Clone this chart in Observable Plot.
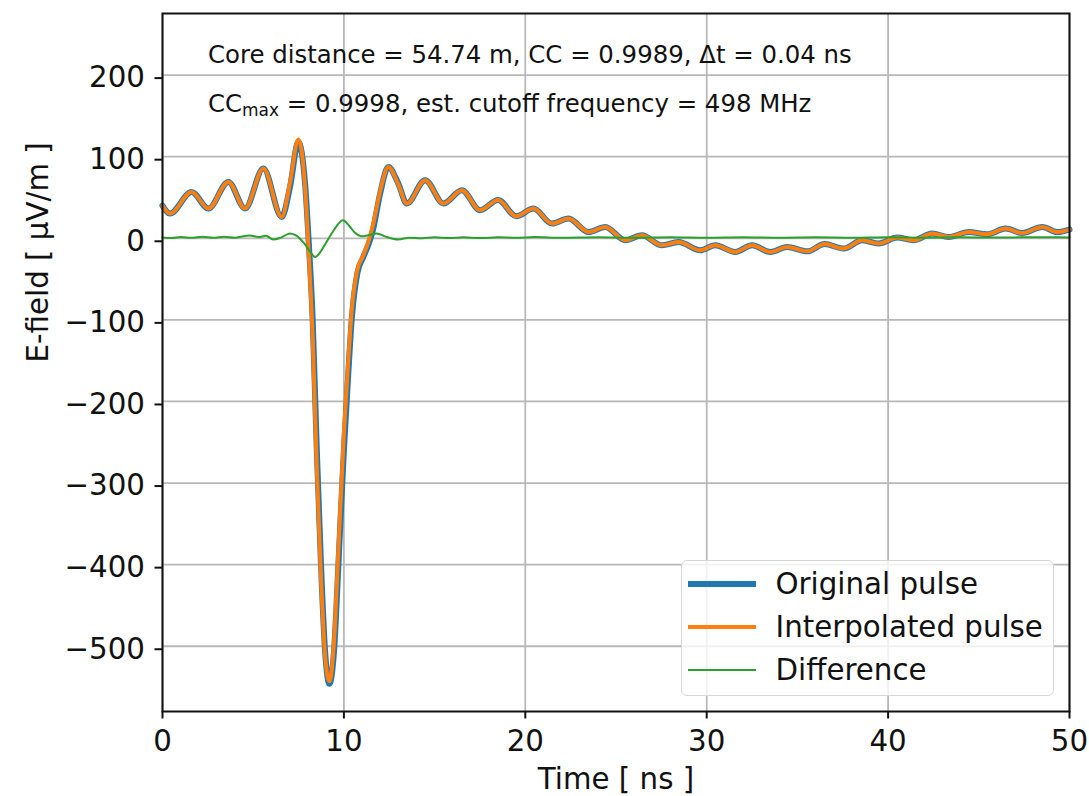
<!DOCTYPE html>
<html>
<head>
<meta charset="utf-8">
<script src="https://cdn.jsdelivr.net/npm/d3@7"></script>
<script src="https://cdn.jsdelivr.net/npm/@observablehq/plot@0.6"></script>
<style>
  body { margin: 0; background: #fff; }
  #chart { position: relative; width: 1089px; height: 796px; font-family: "DejaVu Sans", sans-serif; color: #111; }
  #chart svg { display: block; }
  .legend {
    position: absolute; left: 680.5px; top: 559.5px; width: 373px; height: 136px;
    box-sizing: border-box; border: 1.3px solid #d6d6d6; border-radius: 6px;
    background: rgba(255, 255, 255, 0.8);
  }
  .legend .row { position: absolute; left: 0; height: 40px; display: flex; align-items: center; }
  .legend .row svg { margin-left: 6px; }
  .legend .row span { margin-left: 20px; font-size: 29.3px; line-height: 40px; white-space: nowrap; }
</style>
</head>
<body>
<div id="chart"></div>
<script>
// Sample times [ns] of the pulse traces
const pulseTime = [0, 0.41, 1.61, 2.53, 3.63, 4.55, 5.56, 6.57, 7.03, 7.49, 7.86, 8.05, 8.28, 8.5, 8.72, 8.96, 9.2, 9.46, 9.7, 10.0, 10.21, 10.44, 10.75, 11.05, 11.35, 11.6, 12.0, 12.45, 13.0, 13.47, 14.48, 15.49, 16.5, 17.51, 18.5, 19.5, 20.45, 21.47, 22.38, 23.49, 24.41, 25.51, 26.43, 27.53, 28.45, 29.65, 30.47, 31.57, 32.5, 33.51, 34.43, 35.55, 36.5, 37.55, 38.57, 39.48, 40.5, 41.41, 42.43, 43.34, 44.45, 45.46, 46.47, 47.39, 48.5, 49.32, 50];

// E-field [µV/m] of the original simulated pulse
const originalPulse = [40, 30.3, 56.8, 36.4, 69.1, 36.4, 85.5, 26.1, 63, 118, 67, 0, -100, -255, -390, -505, -546, -505, -399, -260, -178, -97, -42, -24, -8, 10, 55, 87.5, 67, 42.6, 71.2, 42.6, 58.9, 34.4, 47, 27, 36.4, 18, 24.2, 7.7, 13.9, -2.5, 3.7, -8.6, -4.5, -14.7, -8.6, -16.8, -8.6, -16.8, -10.7, -16, -7, -12.6, -2.5, -6.5, 0.9, -2.5, 5.8, 1.6, 7.7, 4.9, 11.9, 6.5, 13.9, 7.7, 10.7];

// E-field [µV/m] of the interpolated pulse
const interpolatedPulse = [40, 30.3, 56.8, 36.4, 69.1, 36.4, 85.5, 26.1, 68, 121, 62, -14, -122, -278, -407, -511, -543, -492, -380, -239, -161, -86, -38, -22, -4, 16, 58, 87.5, 66, 42.6, 71.2, 42.6, 58.9, 34.4, 47, 27, 36.4, 18, 24.2, 7.7, 13.9, -2.5, 3.7, -8.6, -4.5, -14.7, -8.6, -16.8, -8.6, -16.8, -10.7, -16, -7, -12.6, -2.5, -6.5, 0.9, -2.5, 5.8, 1.6, 7.7, 4.9, 11.9, 6.5, 13.9, 7.7, 10.7];

// Difference trace (interpolated - original)
const diffTime = [0, 0.5, 1.0, 1.6, 2.2, 2.8, 3.4, 4.0, 4.8, 5.3, 5.7, 6.1, 6.5, 7.03, 7.4, 7.8, 8.1, 8.41, 8.7, 9.0, 9.3, 9.6, 9.94, 10.3, 10.6, 11.0, 11.3, 11.8, 12.3, 13.0, 13.6, 14.3, 15.0, 15.8, 16.6, 17.5, 18.5, 19.5, 20.5, 22, 24, 26, 28, 30, 32, 34, 36, 38, 40, 42, 44, 46, 48, 50];
const difference = [1, 0.3, 1.5, 0.5, 1.8, 0.6, 2, 0.8, 3.5, 1.5, 3, -1.5, 0.5, 6, 3, -6, -15, -23, -17, -6, 5, 15, 22, 15, 7, 2.5, 3.5, 6, 2, -1.5, 0.8, 0, 1.2, 0.2, 1.2, 0.3, 1.2, 0.5, 1.5, 0.6, 1.3, 0.5, 1.2, 0.6, 1.3, 0.6, 1.2, 0.7, 1.3, 0.8, 1.2, 0.9, 1.3, 1];

// Axis ticks
const xTicks = [0, 10, 20, 30, 40, 50];
const yTicks = [-500, -400, -300, -200, -100, 0, 100, 200];

// Series names and labels
const seriesNames = ["Original pulse", "Interpolated pulse", "Difference"];
const xLabel = "Time [ ns ]";
const yLabel = "E-field [ μV/m ]";
const infoLine = "Core distance = 54.74 m, CC = 0.9989, Δt = 0.04 ns";
const ccMaxParts = ["CC", "max", " = 0.9998, est. cutoff frequency = 498 MHz"];

// Drawing style of each series
const seriesStyle = [
  { color: "#1f77b4", width: 6 },
  { color: "#ff7f0e", width: 4 },
  { color: "#2ca02c", width: 2 }
];

const original = pulseTime.map((t, i) => ({ t, v: originalPulse[i] }));
const interpolated = pulseTime.map((t, i) => ({ t, v: interpolatedPulse[i] }));
const diff = diffTime.map((t, i) => ({ t, v: difference[i] }));
const ccMaxPlain = ccMaxParts.join("");

const minus = d => (d < 0 ? "\u2212" + Math.abs(d) : String(d));
const fs = 29.3;

const plot = Plot.plot({
  width: 1089,
  height: 796,
  marginLeft: 162,
  marginRight: 20,
  marginTop: 13,
  marginBottom: 85,
  x: { domain: [0, 50], label: null },
  y: { domain: [-580, 275.5], label: null },
  style: { fontFamily: "'DejaVu Sans', sans-serif", fontSize: fs + "px", color: "#111", background: "#fff" },
  marks: [
    Plot.gridX(xTicks, { stroke: "#b8b8b8", strokeOpacity: 1, strokeWidth: 1.8 }),
    Plot.gridY(yTicks, { stroke: "#b8b8b8", strokeOpacity: 1, strokeWidth: 1.8 }),
    Plot.line(original, { x: "t", y: "v", stroke: seriesStyle[0].color, strokeWidth: seriesStyle[0].width, curve: "monotone-x" }),
    Plot.line(interpolated, { x: "t", y: "v", stroke: seriesStyle[1].color, strokeWidth: seriesStyle[1].width, curve: "monotone-x" }),
    Plot.line(diff, { x: "t", y: "v", stroke: seriesStyle[2].color, strokeWidth: seriesStyle[2].width, curve: "monotone-x" }),
    Plot.frame({ stroke: "#111", strokeWidth: 2 }),
    Plot.axisX(xTicks, { tickSize: 7.5, tickPadding: 11, strokeWidth: 2, label: null, fontSize: fs }),
    Plot.axisY(yTicks, { tickSize: 7.5, tickPadding: 10, strokeWidth: 2, label: null, fontSize: fs, tickFormat: minus, dy: 3 }),
    Plot.text([xLabel], { text: d => d, frameAnchor: "bottom", dy: 77, fontSize: fs }),
    Plot.text([yLabel], { text: d => d, frameAnchor: "left", dx: -124, rotate: -90, fontSize: fs }),
    Plot.text([infoLine], { text: d => d, frameAnchor: "top-left", textAnchor: "start", dx: 45.5, dy: 32, fontSize: 24.4 }),
    Plot.text([ccMaxPlain], { text: d => d, frameAnchor: "top-left", textAnchor: "start", dx: 45.5, dy: 81, fontSize: 24.4 })
  ]
});

// Subscript for CC_max
d3.select(plot).selectAll("text")
  .filter(function () { return this.textContent === ccMaxPlain; })
  .each(function () {
    const t = d3.select(this);
    t.selectAll("*").remove();
    t.text(null);
    t.append("tspan").text(ccMaxParts[0]);
    t.append("tspan").attr("font-size", 17).attr("dy", 4.5).text(ccMaxParts[1]);
    t.append("tspan").attr("dy", -4.5).text(ccMaxParts[2]);
  });

const chart = document.getElementById("chart");
chart.appendChild(plot);

// Legend box inside the plot area
const legend = d3.select(chart).append("div").attr("class", "legend");
seriesNames.forEach((name, i) => {
  const row = legend.append("div").attr("class", "row").style("top", (3 + i * 43) + "px");
  const sw = row.append("svg").attr("width", 68).attr("height", 12);
  sw.append("line").attr("x1", 0).attr("x2", 68).attr("y1", 6).attr("y2", 6)
    .attr("stroke", seriesStyle[i].color).attr("stroke-width", seriesStyle[i].width);
  row.append("span").text(name);
});
</script>
</body>
</html>
